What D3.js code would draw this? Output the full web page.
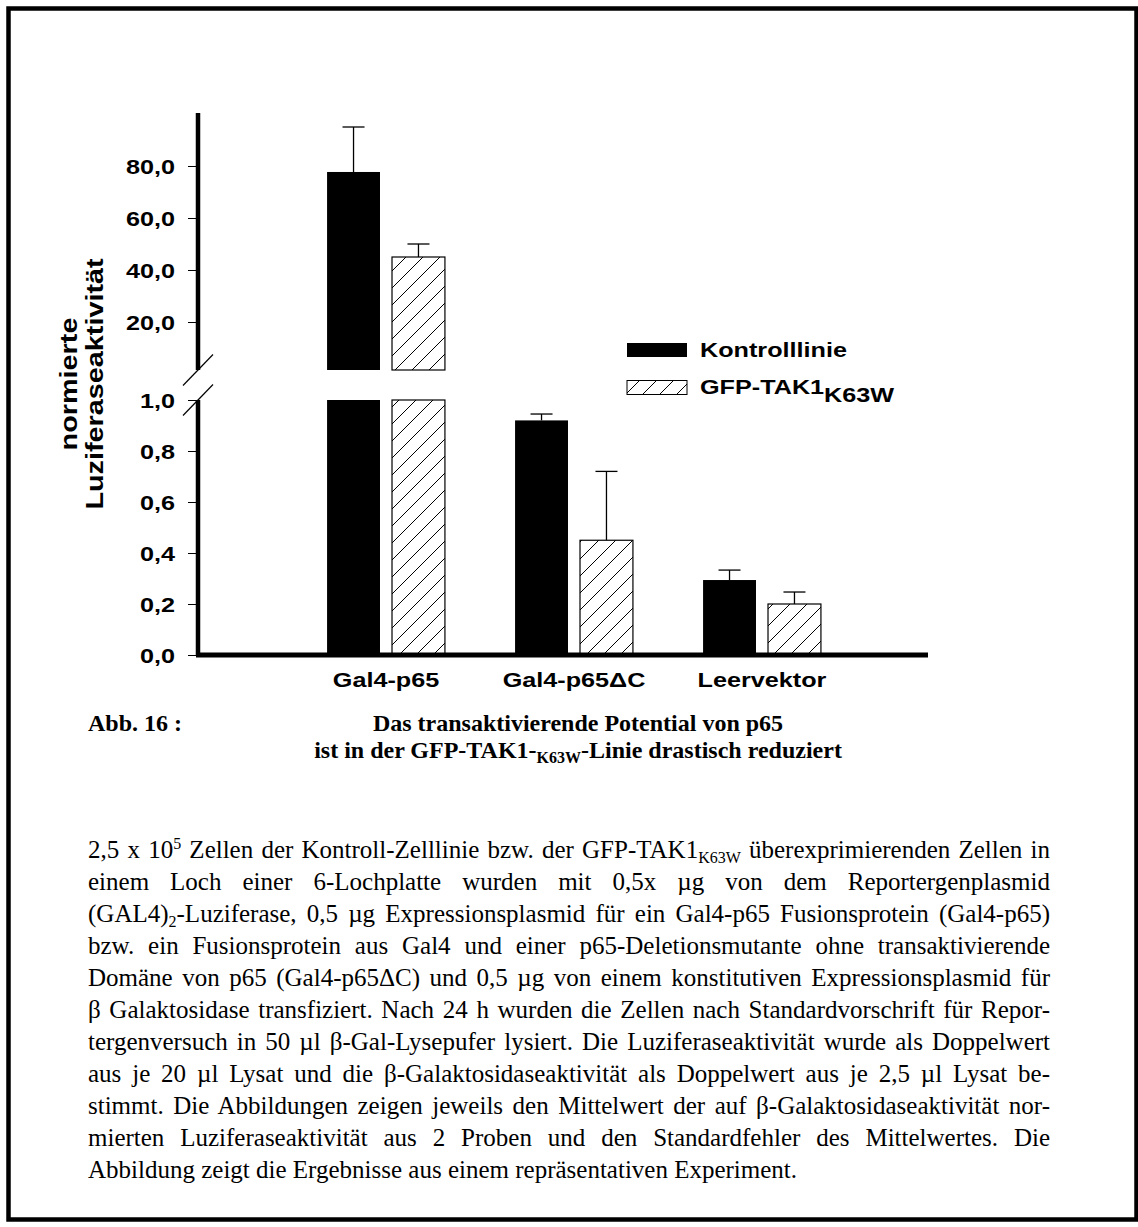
<!DOCTYPE html>
<html lang="de">
<head>
<meta charset="utf-8">
<style>
  body { margin: 0; background: white; }
  svg { display: block; background: white; }
  .sans { font-family: 'Liberation Sans', Arial, sans-serif; font-weight: bold; fill: #000; }
  .serif { font-family: 'Liberation Serif', 'Times New Roman', serif; fill: #000; }
</style>
</head>
<body>
<script src="https://d3js.org/d3.v7.min.js"></script>
<script>
// ---- data ----
const categories = ["Gal4-p65", "Gal4-p65\u0394C", "Leervektor"];
const seriesNames = ["Kontrolllinie", "GFP-TAK1"];
const kontrollMean = [77.7, 0.92, 0.294];
const kontrollErr  = [17.3, 0.025, 0.039];
const tak1Mean     = [45.0, 0.45, 0.20];
const tak1Err      = [5.0, 0.27, 0.047];
const upperTicks = [20, 40, 60, 80];
const lowerTicks = [0, 0.2, 0.4, 0.6, 0.8, 1.0];

const captionLine1 = "Das transaktivierende Potential von p65";
const captionLine2 = [{t: "ist in der GFP-TAK1-"}, {t: "K63W", sub: true}, {t: "-Linie drastisch reduziert"}];

const bodyLines = [
  [{t: "2,5 x 10"}, {t: "5", sup: true}, {t: " Zellen der Kontroll-Zelllinie bzw. der GFP-TAK1"}, {t: "K63W", sub: true}, {t: " \u00fcberexprimierenden Zellen in"}],
  [{t: "einem Loch einer 6-Lochplatte wurden mit 0,5x \u00b5g von dem Reportergenplasmid"}],
  [{t: "(GAL4)"}, {t: "2", sub: true}, {t: "-Luziferase, 0,5 \u00b5g Expressionsplasmid f\u00fcr ein Gal4-p65 Fusionsprotein (Gal4-p65)"}],
  [{t: "bzw. ein Fusionsprotein aus Gal4 und einer p65-Deletionsmutante ohne transaktivierende"}],
  [{t: "Dom\u00e4ne von p65 (Gal4-p65\u0394C) und 0,5 \u00b5g von einem konstitutiven Expressionsplasmid f\u00fcr"}],
  [{t: "\u03b2 Galaktosidase transfiziert. Nach 24 h wurden die Zellen nach Standardvorschrift f\u00fcr Repor-"}],
  [{t: "tergenversuch in 50 \u00b5l \u03b2-Gal-Lysepufer lysiert. Die Luziferaseaktivit\u00e4t wurde als Doppelwert"}],
  [{t: "aus je 20 \u00b5l Lysat und die \u03b2-Galaktosidaseaktivit\u00e4t als Doppelwert aus je 2,5 \u00b5l Lysat be-"}],
  [{t: "stimmt. Die Abbildungen zeigen jeweils den Mittelwert der auf \u03b2-Galaktosidaseaktivit\u00e4t nor-"}],
  [{t: "mierten Luziferaseaktivit\u00e4t aus 2 Proben und den Standardfehler des Mittelwertes. Die"}],
  [{t: "Abbildung zeigt die Ergebnisse aus einem repr\u00e4sentativen Experiment."}]
];

// ---- layout ----
const width = 1138, height = 1227;
const axisX = 198, xAxisEnd = 928;
const breakTop = 370, breakBottom = 400;
const stretch = 1.2;

const svg = d3.select("body").append("svg")
  .attr("width", width).attr("height", height);

svg.append("rect")
  .attr("x", 8.5).attr("y", 8.5)
  .attr("width", 1128).attr("height", 1211)
  .attr("fill", "white").attr("stroke", "#000").attr("stroke-width", 4.5);

const defs = svg.append("defs");
const pat = defs.append("pattern").attr("id", "hatch")
  .attr("patternUnits", "userSpaceOnUse").attr("width", 17).attr("height", 17);
pat.append("rect").attr("width", 17).attr("height", 17).attr("fill", "white");
pat.append("path").attr("d", "M0,17 L17,0 M-4,4 L4,-4 M13,21 L21,13")
  .attr("stroke", "#000").attr("stroke-width", 1);

// scales
const x0 = d3.scaleBand().domain(categories).range([292, 856]);
const x1 = d3.scaleBand().domain([0, 1]).range([0, x0.bandwidth()])
  .paddingInner(0.185).paddingOuter(0.54);
const yUp = d3.scaleLinear().domain([0, 100]).range([374, 114]);
const yLo = d3.scaleLinear().domain([0, 1]).range([655, 400]);

const fmt = d => d3.format(".1f")(d).replace(".", ",");

// wide (horizontally stretched) bold sans text
function wideText(parent, x, y, str, size, anchor, rotate) {
  const t = parent.append("text").attr("class", "sans")
    .attr("font-size", size).attr("text-anchor", anchor || "start")
    .attr("transform", "translate(" + x + "," + y + ")" + (rotate ? " rotate(" + rotate + ")" : "") + " scale(" + stretch + ",1)");
  t.text(str);
  return t;
}

const chart = svg.append("g");

// bars
const rows = [];
categories.forEach((c, i) => {
  rows.push({cat: c, s: 0, mean: kontrollMean[i], err: kontrollErr[i]});
  rows.push({cat: c, s: 1, mean: tak1Mean[i], err: tak1Err[i]});
});

const barFill = d => d.s === 0 ? "#000" : "url(#hatch)";
const bx = d => x0(d.cat) + x1(d.s);

// lower panel part
chart.selectAll("rect.lo").data(rows).join("rect").attr("class", "lo")
  .attr("x", bx)
  .attr("y", d => yLo(Math.min(d.mean, 1)))
  .attr("width", x1.bandwidth())
  .attr("height", d => yLo(0) - yLo(Math.min(d.mean, 1)))
  .attr("fill", barFill)
  .attr("stroke", d => d.s === 0 ? "none" : "#000").attr("stroke-width", 1.2);

// upper panel part
chart.selectAll("rect.up").data(rows.filter(d => d.mean > 1)).join("rect").attr("class", "up")
  .attr("x", bx)
  .attr("y", d => yUp(d.mean))
  .attr("width", x1.bandwidth())
  .attr("height", d => breakTop - yUp(d.mean))
  .attr("fill", barFill)
  .attr("stroke", d => d.s === 0 ? "none" : "#000").attr("stroke-width", 1.2);

// error bars (upper whisker only)
const eb = chart.selectAll("g.err").data(rows).join("g").attr("class", "err");
const ys = d => d.mean > 1 ? yUp : yLo;
const capW = 22;
eb.append("line")
  .attr("x1", d => bx(d) + x1.bandwidth() / 2).attr("x2", d => bx(d) + x1.bandwidth() / 2)
  .attr("y1", d => ys(d)(d.mean)).attr("y2", d => ys(d)(d.mean + d.err))
  .attr("stroke", "#000").attr("stroke-width", 1.3);
eb.append("line")
  .attr("x1", d => bx(d) + x1.bandwidth() / 2 - capW / 2).attr("x2", d => bx(d) + x1.bandwidth() / 2 + capW / 2)
  .attr("y1", d => ys(d)(d.mean + d.err)).attr("y2", d => ys(d)(d.mean + d.err))
  .attr("stroke", "#000").attr("stroke-width", 1.3);

// y axes
function styleAxis(g) {
  g.select(".domain").remove();
  g.selectAll(".tick line").attr("stroke", "#000").attr("stroke-width", 1);
  g.selectAll(".tick text")
    .attr("class", "sans").attr("font-size", 21)
    .attr("x", 0).attr("dy", "0.36em")
    .attr("transform", "translate(-23,0) scale(" + stretch + ",1)");
}
chart.append("g").attr("transform", "translate(" + axisX + ",0)")
  .call(d3.axisLeft(yUp).tickValues(upperTicks).tickSize(10).tickPadding(13).tickFormat(fmt))
  .call(styleAxis);
chart.append("g").attr("transform", "translate(" + axisX + ",0)")
  .call(d3.axisLeft(yLo).tickValues(lowerTicks).tickSize(10).tickPadding(13).tickFormat(fmt))
  .call(styleAxis);

// thick axis lines
chart.append("line").attr("x1", axisX).attr("x2", axisX)
  .attr("y1", yUp(100) - 1).attr("y2", breakTop)
  .attr("stroke", "#000").attr("stroke-width", 4.5);
chart.append("line").attr("x1", axisX).attr("x2", axisX)
  .attr("y1", breakBottom).attr("y2", yLo(0))
  .attr("stroke", "#000").attr("stroke-width", 4.5);
chart.append("line").attr("x1", axisX - 2).attr("x2", xAxisEnd)
  .attr("y1", yLo(0)).attr("y2", yLo(0))
  .attr("stroke", "#000").attr("stroke-width", 5);

// break marks
[breakTop, breakBottom].forEach(yb => {
  chart.append("line")
    .attr("x1", axisX - 15).attr("y1", yb + 15.5)
    .attr("x2", axisX + 15).attr("y2", yb - 15.5)
    .attr("stroke", "#000").attr("stroke-width", 1.2);
});

// x labels
categories.forEach(c => {
  wideText(chart, x0(c) + x0.bandwidth() / 2, 687, c, 21, "middle");
});

// y title
wideText(chart, 77, 384, "normierte", 24, "middle", -90);
wideText(chart, 103, 384, "Luziferaseaktivit\u00e4t", 24, "middle", -90);

// legend
const lg = chart.append("g");
lg.append("rect").attr("x", 627).attr("y", 343).attr("width", 60).attr("height", 14).attr("fill", "#000");
lg.append("rect").attr("x", 627).attr("y", 380.5).attr("width", 60).attr("height", 14)
  .attr("fill", "url(#hatch)").attr("stroke", "#000").attr("stroke-width", 1);
wideText(lg, 700, 357, seriesNames[0], 21, "start");
const l2 = wideText(lg, 700, 394, "", 21, "start");
l2.append("tspan").text(seriesNames[1]);
l2.append("tspan").attr("dy", 8).text("K63W");

function appendSegments(textSel, segs, smallSize) {
  let shift = 0;
  segs.forEach(s => {
    const ts = textSel.append("tspan").text(s.t);
    const target = s.sub ? 5 : s.sup ? -9 : 0;
    if (target !== shift) { ts.attr("dy", target - shift); shift = target; }
    if (s.sub || s.sup) ts.attr("font-size", smallSize);
  });
}

// caption
const cap = svg.append("g").attr("class", "serif").attr("font-weight", "bold").attr("font-size", 24);
cap.append("text").attr("x", 88).attr("y", 731).text("Abb. 16 :");
cap.append("text").attr("x", 578).attr("y", 731).attr("text-anchor", "middle").text(captionLine1);
const c2 = cap.append("text").attr("x", 578).attr("y", 758).attr("text-anchor", "middle");
appendSegments(c2, captionLine2, 16);

// body text, justified
const body = svg.append("g").attr("class", "serif").attr("font-size", 25);
const bodyLeft = 88, bodyRight = 1050, bodyTop = 858, bodyStep = 32;
bodyLines.forEach((segs, i) => {
  const t = body.append("text").attr("x", bodyLeft).attr("y", bodyTop + i * bodyStep);
  appendSegments(t, segs, 16);
  if (i < bodyLines.length - 1) {
    const full = segs.map(s => s.t).join("");
    const spaces = (full.match(/ /g) || []).length;
    const len = t.node().getComputedTextLength();
    if (spaces > 0) {
      t.attr("word-spacing", (bodyRight - bodyLeft - len) / spaces);
    }
  }
});
</script>
</body>
</html>
